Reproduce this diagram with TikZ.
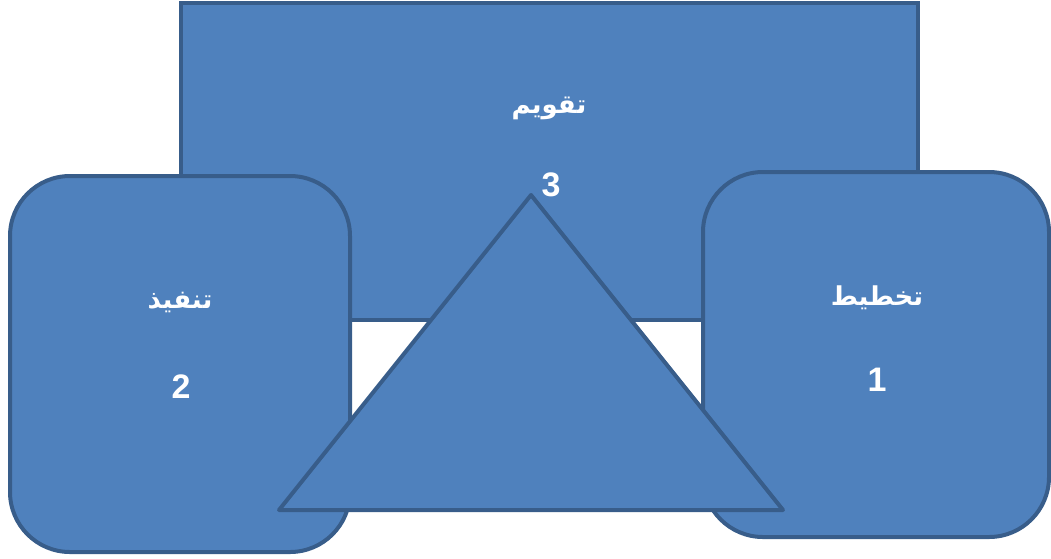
\documentclass[tikz,border=0pt]{standalone}
\usepackage{fontspec}
\setmainfont{Liberation Sans}
\newfontfamily\arabicfont[Script=Arabic]{DejaVu Sans}
\TeXXeTstate=1
\definecolor{boxfill}{HTML}{4F81BD}
\definecolor{boxline}{HTML}{385D8A}
\tikzset{
  shapebox/.style={draw=boxline, fill=boxfill, line width=4pt, rectangle, inner sep=0pt, outer sep=0pt},
  roundbox/.style={shapebox, rounded corners=60pt},
  artext/.style={text=white, font=\arabicfont\bfseries\fontsize{26}{30}\selectfont, inner sep=0pt},
  numtext/.style={text=white, font=\bfseries\fontsize{34}{38}\selectfont, inner sep=0pt}
}
\begin{document}
\begin{tikzpicture}[x=1pt,y=-1pt]
\useasboundingbox (0,0) rectangle (1051,558);
\node[shapebox, minimum width=737pt, minimum height=317pt] (eval) at (549.5,161.5) {};
\node[roundbox, minimum width=340pt, minimum height=376pt] (exec) at (180,364) {};
\node[roundbox, minimum width=346pt, minimum height=365pt] (plan) at (876,354.5) {};
\coordinate (apex) at (531,195);
\coordinate (bl) at (279,510);
\coordinate (br) at (783,510);
\draw[draw=boxline, fill=boxfill, line width=4pt, line join=round] (apex) -- (bl) -- (br) -- cycle;
\node[artext] (evalt) at (549,108) {\beginR تقويم\endR};
\node[numtext] (evaln) at (551,185) {3};
\node[artext] (exect) at (180,302) {\beginR تنفيذ\endR};
\node[numtext] (execn) at (181,387) {2};
\node[artext] (plant) at (877,298) {\beginR تخطيط\endR};
\node[numtext] (plann) at (877,380) {1};
\end{tikzpicture}
\end{document}
